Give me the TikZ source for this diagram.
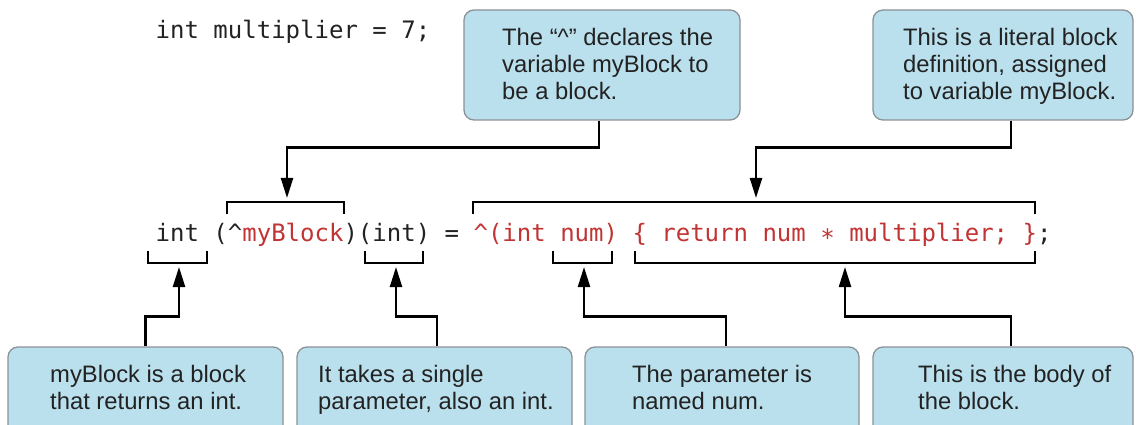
\documentclass[tikz,border=0pt]{standalone}
\usepackage{fontspec}
\setmainfont{Liberation Sans}
\newfontfamily\codefont{DejaVu Sans Mono}
\usetikzlibrary{arrows.meta}
\definecolor{boxfill}{RGB}{186,224,237}
\definecolor{boxline}{RGB}{140,145,150}
\definecolor{codered}{RGB}{193,52,52}
\definecolor{ink}{RGB}{34,34,34}
\begin{document}
\begin{tikzpicture}[x=1pt,y=-1pt,
  cbox/.style={draw=boxline, line width=1.3pt, fill=boxfill, rounded corners=10pt, inner sep=0pt},
  note/.style={font=\fontsize{23.8}{27}\selectfont, text=ink, align=left, inner sep=0pt, anchor=north west},
  code/.style={font=\codefont\fontsize{24}{28}\selectfont, text=ink, inner sep=0pt, anchor=base west},
  conn/.style={line width=2.3pt, -{Triangle[length=20pt,width=12pt]}},
  brk/.style={line width=2.3pt, line join=miter},
]
\useasboundingbox (0,0) rectangle (1136,425);
\clip (0,0) rectangle (1136,425);

% boxes
\node[cbox, minimum width=276pt, minimum height=110pt] (tb1) at (602,65) {};
\node[cbox, minimum width=260pt, minimum height=110pt] (tb2) at (1003,65) {};
\node[cbox, minimum width=275pt, minimum height=98pt] (bb1) at (145.5,396) {};
\node[cbox, minimum width=275pt, minimum height=98pt] (bb2) at (434.5,396) {};
\node[cbox, minimum width=274pt, minimum height=98pt] (bb3) at (722,396) {};
\node[cbox, minimum width=260pt, minimum height=98pt] (bb4) at (1003,396) {};

% box texts
\node[note] (tb1t) at (502,28) {The “\textasciicircum” declares the\\variable myBlock to\\be a block.};
\node[note] (tb2t) at (903,28) {This is a literal block\\definition, assigned\\to variable myBlock.};
\node[note] (bb1t) at (50,365) {myBlock is a block\\that returns an int.};
\node[note] (bb2t) at (318,365) {It takes a single\\parameter, also an int.};
\node[note] (bb3t) at (632,365) {The parameter is\\named num.};
\node[note] (bb4t) at (918,365) {This is the body of\\the block.};

% code
\node[code] (decl) at (155.5,39) {int multiplier = 7;};
\node[code] (line) at (155.5,241) {int (\textasciicircum\textcolor{codered}{myBlock})(int) = \textcolor{codered}{\textasciicircum(int num) \{ return num \raisebox{-5pt}{*} multiplier; \}};};

% brackets
\draw[brk] (227,214) -- (227,202) -- (344,202) -- (344,214);
\draw[brk] (473,214) -- (473,202) -- (1035,202) -- (1035,214);
\draw[brk] (148,251) -- (148,263) -- (207,263) -- (207,251);
\draw[brk] (365,251) -- (365,263) -- (423,263) -- (423,251);
\draw[brk] (553,251) -- (553,263) -- (612,263) -- (612,251);
\draw[brk] (635,251) -- (635,263) -- (1035,263) -- (1035,251);

% arrow targets
\coordinate (tipA) at (287,198);
\coordinate (tipB) at (756,198);
\coordinate (tipC) at (179,267);
\coordinate (tipD) at (396,267);
\coordinate (tipE) at (584,267);
\coordinate (tipF) at (845,267);

% connectors
\draw[conn] ([xshift=-3pt]tb1.south) -- ++(0,27) -| (tipA);
\draw[conn] ([xshift=8pt]tb2.south) -- ++(0,27) -| (tipB);
\draw[conn] (bb1.north) -- ++(0,-30) -| (tipC);
\draw[conn] ([xshift=2.5pt]bb2.north) -- ++(0,-30) -| (tipD);
\draw[conn] ([xshift=4pt]bb3.north) -- ++(0,-30) -| (tipE);
\draw[conn] ([xshift=8pt]bb4.north) -- ++(0,-30) -| (tipF);
\end{tikzpicture}
\end{document}
